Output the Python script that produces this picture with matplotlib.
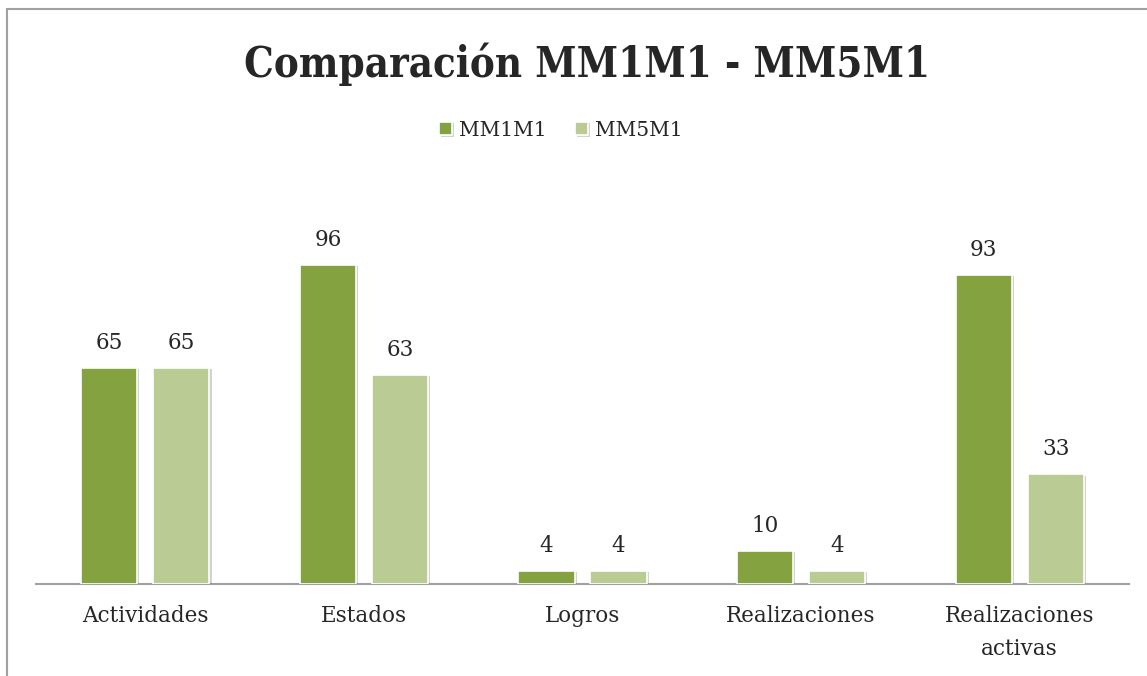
import matplotlib
matplotlib.use("Agg")
import matplotlib.pyplot as plt
import matplotlib.patheffects as pe
from matplotlib.patches import Rectangle
import numpy as np

categories = ["Actividades", "Estados", "Logros", "Realizaciones", "Realizaciones\nactivas"]
mm1m1 = [65, 96, 4, 10, 93]
mm5m1 = [65, 63, 4, 4, 33]
series_names = ["MM1M1", "MM5M1"]
title = "Comparación MM1M1 - MM5M1"

c_dark = "#84A340"
c_light = "#BACB94"
txt = "#262626"
font = "DejaVu Serif"

W, H = 1147, 676
fig = plt.figure(figsize=(W/100, H/100), dpi=100)
fig.patch.set_facecolor("white")

# outer chart border (clipped on right/bottom)
fig.add_artist(Rectangle((6.5/W, -0.1), 1.2, 1.1 - 9.5/H, transform=fig.transFigure,
                         fill=False, edgecolor="#A0A0A0", linewidth=1.5))

left = 36/W; right = 1129/W
bottom = (H-584)/H
ymax = 100
top_px = 584 - ymax*3.323
ax = fig.add_axes([left, bottom, right-left, (584-top_px)/H])
ax.set_xlim(-0.5, len(categories)-0.5)
ax.set_ylim(0, ymax)

x = np.arange(len(categories))
bw = 0.257
off = 0.165
shadow = [pe.SimplePatchShadow(offset=(1.5, -1.0), shadow_rgbFace="#7f7f7f", alpha=0.35), pe.Normal()]
b1 = ax.bar(x-off, mm1m1, bw, color=c_dark, edgecolor="white", linewidth=1.2, label=series_names[0], zorder=3)
b2 = ax.bar(x+off, mm5m1, bw, color=c_light, edgecolor="white", linewidth=1.2, label=series_names[1], zorder=3)
for bars in (b1, b2):
    for p in bars:
        p.set_path_effects(shadow)

for xs, vals in ((x-off, mm1m1), (x+off, mm5m1)):
    for xi, v in zip(xs, vals):
        ax.annotate(str(v), (xi, v), xytext=(0, 10), textcoords="offset points",
                    ha="center", va="bottom", fontsize=15.5, family=font, color=txt)

for s in ["top", "right", "left"]:
    ax.spines[s].set_visible(False)
ax.spines["bottom"].set_color("#A0A0A0")
ax.spines["bottom"].set_linewidth(1.5)
ax.set_yticks([])
ax.set_xticks(x)
ax.set_xticklabels(categories, fontsize=15.5, family=font, color=txt, linespacing=1.65)
ax.tick_params(axis="x", length=0, pad=15)

fig.text(587/W, 1-77/H, title, ha="center", va="baseline", fontsize=30, fontweight="bold",
         fontstretch="condensed", family=font, color=txt)

leg = fig.legend(handles=[b1, b2], loc="center", bbox_to_anchor=(561/W, 1-130/H), ncol=2,
                 frameon=False, prop={"family": font, "size": 14.5}, handlelength=0.65,
                 handleheight=0.65, handletextpad=0.35, columnspacing=1.4)
for t in leg.get_texts():
    t.set_color(txt)

fig.savefig("out.png", dpi=100, facecolor="white")
